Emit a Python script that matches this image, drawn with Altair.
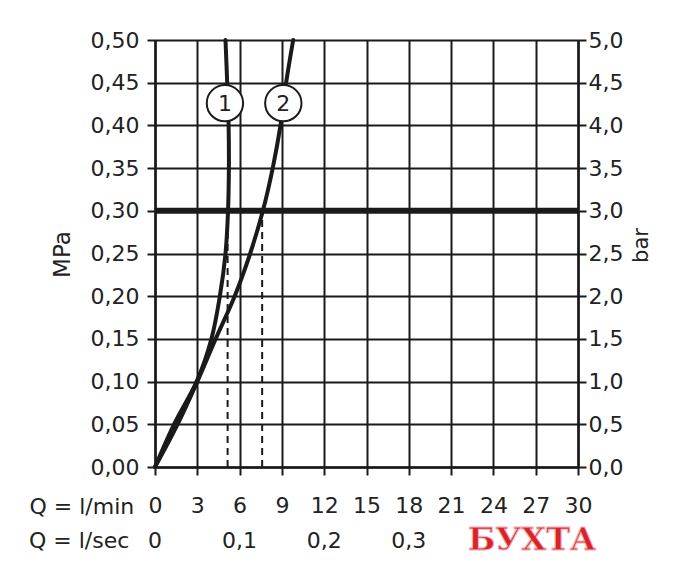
import altair as alt
import pandas as pd

FONT = "DejaVu Sans"
INK = "#1a1a1a"

# ---- data ----
q_ticks = [0, 3, 6, 9, 12, 15, 18, 21, 24, 27, 30]           # l/min
mpa_ticks = [0, 0.05, 0.10, 0.15, 0.20, 0.25, 0.30, 0.35, 0.40, 0.45, 0.50]

curve1_q = [0, 1.35, 2.95, 4.0, 4.6, 5.0, 5.18, 5.24, 5.22, 5.12, 5.0]
curve1_p = [0, 0.05, 0.10, 0.15, 0.20, 0.25, 0.30, 0.35, 0.40, 0.45, 0.50]
curve2_q = [0, 1.6, 3.0, 4.3, 5.65, 6.75, 7.65, 8.35, 8.9, 9.3, 9.8]
curve2_p = [0, 0.05, 0.10, 0.15, 0.20, 0.25, 0.30, 0.35, 0.40, 0.45, 0.50]

limit_p = 0.30                      # heavy line (3 bar)
limit_q = [5.15, 7.6]               # dashed drop lines
marker_q = [4.96, 9.1]
marker_p = [0.426, 0.426]
marker_lbl = ["1", "2"]

lsec_vals = [0, 0.1, 0.2, 0.3]
lsec_lbls = ["0", "0,1", "0,2", "0,3"]

W, H = 423, 427

rows = []
for name, qs, ps in [("1", curve1_q, curve1_p), ("2", curve2_q, curve2_p)]:
    for i, (q, p) in enumerate(zip(qs, ps)):
        rows.append({"curve": name, "i": i, "q": q, "p": p})
curves_df = pd.DataFrame(rows)

xs = alt.Scale(domain=[0, 30], nice=False, zero=False)
ys = alt.Scale(domain=[0, 0.5], nice=False, zero=False)

x_axis = alt.Axis(
    values=q_ticks, grid=True, gridColor=INK, gridWidth=2, gridOpacity=1,
    domainColor=INK, domainWidth=2.5, tickColor=INK, tickWidth=2, tickSize=8,
    labelFont=FONT, labelFontSize=22, labelColor="#222", labelPadding=20,
    labelFlush=False, labelOverlap=False, labelBound=False,
    title="Q = l/min", titleFont=FONT, titleFontSize=22, titleFontWeight="normal",
    titleColor="#222", titleX=-126, titleY=29, titleAlign="left", titleBaseline="top",
    titleAnchor="start",
)
y_axis = alt.Axis(
    values=mpa_ticks, grid=True, gridColor=INK, gridWidth=2, gridOpacity=1,
    domainColor=INK, domainWidth=2.5, tickColor=INK, tickWidth=2, tickSize=8,
    labelFont=FONT, labelFontSize=22, labelColor="#222", labelPadding=8,
    labelFlush=False, labelOverlap=False, labelBound=False,
    labelExpr="replace(format(datum.value, '.2f'), '.', ',')",
    title="MPa", titleFont=FONT, titleFontSize=23, titleFontWeight="normal",
    titleColor="#222", titleX=-93, titleY=214, titleAngle=270,
    titleAlign="center", titleBaseline="middle",
)
y_axis_r = alt.Axis(
    orient="right", values=mpa_ticks, grid=False,
    domainColor=INK, domainWidth=2.5, tickColor=INK, tickWidth=2, tickSize=8,
    labelFont=FONT, labelFontSize=22, labelColor="#222", labelPadding=2,
    labelFlush=False, labelOverlap=False, labelBound=False,
    labelExpr="replace(format(datum.value * 10, '.1f'), '.', ',')",
    title="bar", titleFont=FONT, titleFontSize=21, titleFontWeight="normal",
    titleColor="#222", titleX=63, titleY=205, titleAngle=270,
    titleAlign="center", titleBaseline="middle",
)

curves = alt.Chart(curves_df).mark_line(
    color=INK, strokeWidth=4, interpolate="catmull-rom", strokeCap="round"
).encode(
    x=alt.X("q:Q", scale=xs, axis=x_axis),
    y=alt.Y("p:Q", scale=ys, axis=y_axis),
    detail="curve:N",
    order=alt.Order("i:Q"),
)

drops_df = pd.DataFrame({"q": limit_q, "p0": [0, 0], "p1": [limit_p, limit_p]})
drops = alt.Chart(drops_df).mark_rule(
    color=INK, strokeWidth=2, strokeDash=[7, 5]
).encode(
    x=alt.X("q:Q", scale=xs, axis=x_axis),
    y=alt.Y("p0:Q", scale=ys, axis=y_axis),
    y2="p1:Q",
)

markers_df = pd.DataFrame({"q": marker_q, "p": marker_p, "lbl": marker_lbl})
circles = alt.Chart(markers_df).mark_point(
    shape="circle", filled=True, fill="white", fillOpacity=1,
    stroke=INK, strokeWidth=2, size=1320, opacity=1
).encode(
    x=alt.X("q:Q", scale=xs, axis=x_axis),
    y=alt.Y("p:Q", scale=ys, axis=y_axis),
)
circle_txt = alt.Chart(markers_df).mark_text(
    font=FONT, fontSize=22, color="#222", align="center", baseline="middle", dy=1
).encode(
    x=alt.X("q:Q", scale=xs, axis=x_axis),
    y=alt.Y("p:Q", scale=ys, axis=y_axis),
    text="lbl:N",
)

lsec_df = pd.DataFrame({"q": [v * 60 for v in lsec_vals], "lbl": lsec_lbls})
lsec = alt.Chart(lsec_df).mark_text(
    font=FONT, fontSize=22, color="#222", align="center", baseline="middle"
).encode(
    x=alt.X("q:Q", scale=xs, axis=x_axis),
    y=alt.value(H + 74),
    text="lbl:N",
)
lsec_title = alt.Chart(pd.DataFrame({"t": ["Q = l/sec"]})).mark_text(
    font=FONT, fontSize=22, color="#222", align="left", baseline="middle"
).encode(x=alt.value(-126), y=alt.value(H + 74), text="t:N")

mark_df = pd.DataFrame({"t": ["БУХТА"]})
watermark = alt.Chart(mark_df).mark_text(
    font="DejaVu Serif", fontWeight="bold", fontSize=32, color="#d8232a",
    align="center", baseline="middle", stroke="#f3b5b8", strokeWidth=1
).encode(x=alt.value(377), y=alt.value(H + 73), text="t:N")

left = alt.layer(curves, drops, circles, circle_txt, lsec, lsec_title, watermark)

limit_df = pd.DataFrame({"p": [limit_p], "q0": [0], "q1": [30]})
limit = alt.Chart(limit_df).mark_rule(color=INK, strokeWidth=6, strokeCap="butt").encode(
    x=alt.X("q0:Q", scale=xs, axis=x_axis),
    x2="q1:Q",
    y=alt.Y("p:Q", scale=ys, axis=y_axis_r),
)

chart = alt.layer(left, limit).resolve_scale(y="independent").properties(
    width=W, height=H,
    autosize=alt.AutoSizeParams(type="none"),
    padding={"left": 147, "top": 32, "right": 90, "bottom": 96},
).configure_view(stroke=None).configure(background="white")

chart.save("out.html", embed_options={"renderer": "svg", "actions": False})
